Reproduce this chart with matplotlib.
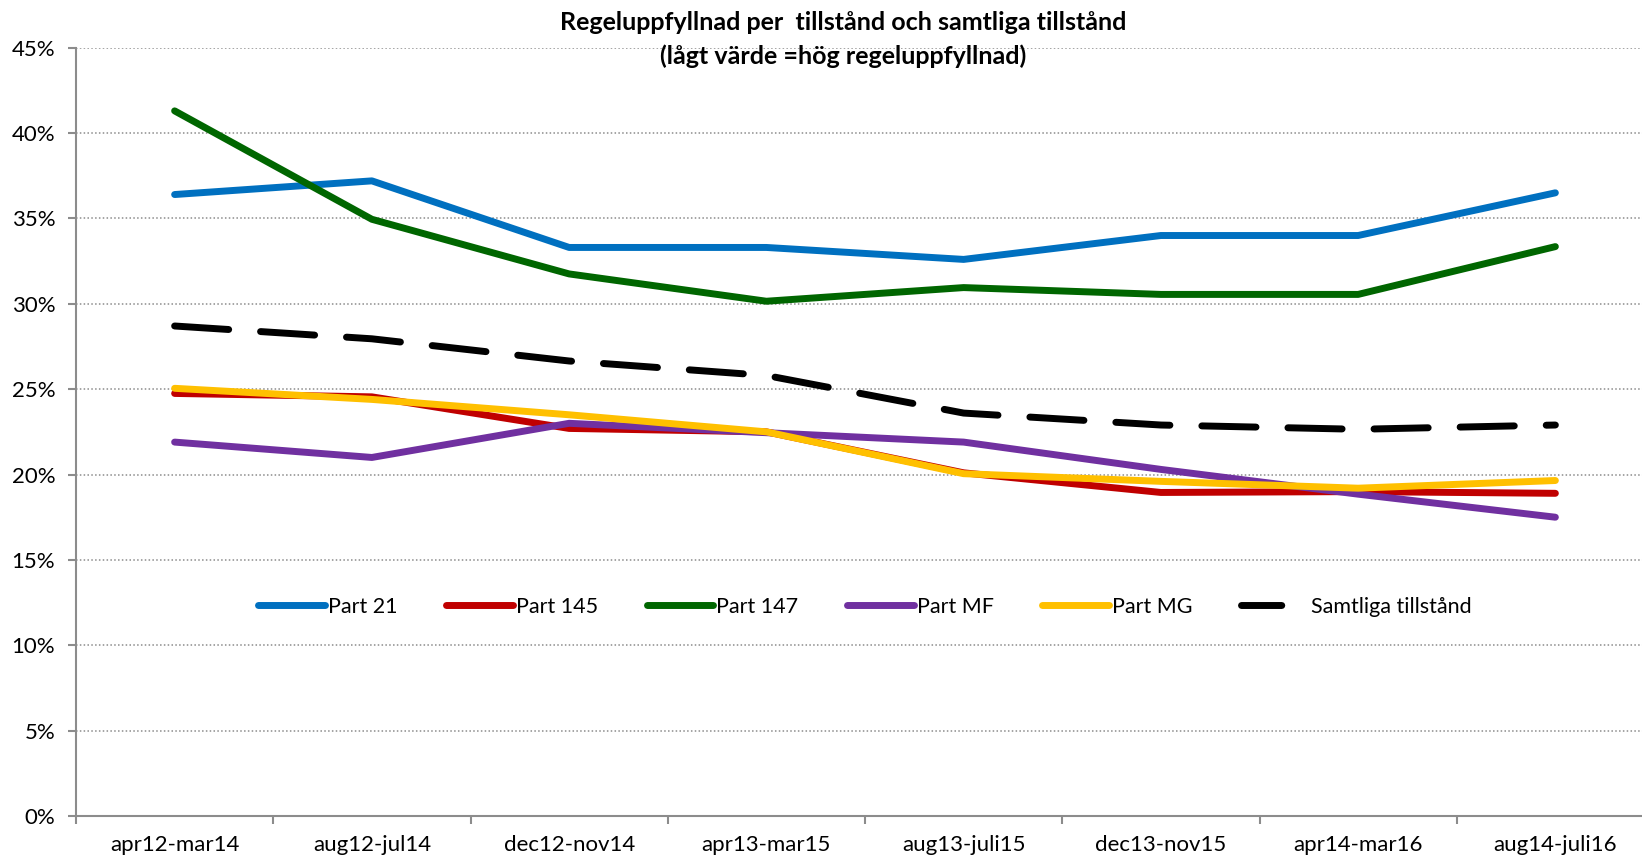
import numpy as np
import matplotlib
matplotlib.use("Agg")
import matplotlib.pyplot as plt
from matplotlib.lines import Line2D
from matplotlib.ticker import FuncFormatter, MultipleLocator

plt.rcParams['font.family'] = ['Lato', 'DejaVu Sans']

periods = ["apr12-mar14", "aug12-jul14", "dec12-nov14", "apr13-mar15",
           "aug13-juli15", "dec13-nov15", "apr14-mar16", "aug14-juli16"]

part_21 = [36.4, 37.2, 33.3, 33.3, 32.6, 34.0, 34.0, 36.5]
part_145 = [24.75, 24.55, 22.7, 22.5, 20.1, 18.95, 19.0, 18.9]
part_147 = [41.3, 34.95, 31.75, 30.15, 30.95, 30.55, 30.55, 33.35]
part_mf = [21.9, 21.0, 23.0, 22.45, 21.9, 20.3, 18.85, 17.5]
part_mg = [25.05, 24.4, 23.5, 22.5, 20.05, 19.6, 19.2, 19.65]
samtliga = [28.7, 27.95, 26.65, 25.8, 23.6, 22.9, 22.65, 22.9]

series = [
    ("Part 21", part_21, "#0070C0"),
    ("Part 145", part_145, "#C00000"),
    ("Part 147", part_147, "#006600"),
    ("Part MF", part_mf, "#7030A0"),
    ("Part MG", part_mg, "#FFC000"),
]

fig = plt.figure(figsize=(16.42, 8.59), dpi=100)
ax = fig.add_axes([76 / 1642, 1 - 816 / 859, 1578 / 1642, (816 - 47.7) / 859])

x = np.arange(len(periods)) + 0.5
handles = []
for name, vals, col in series:
    ln, = ax.plot(x, vals, color=col, lw=5, solid_capstyle='round',
                  solid_joinstyle='round', label=name, zorder=3)
    handles.append(ln)
ax.plot(x, samtliga, color='black', lw=5, dashes=(7.8, 4.6),
        dash_capstyle='round', solid_capstyle='round', zorder=3)
# legend proxy: the reference shows a single short dash for this entry
handles.append(Line2D([], [], color='black', lw=5, dashes=(5.8, 10),
                      dash_capstyle='round', label="Samtliga tillstånd"))

ax.set_xlim(0, len(periods))
ax.set_ylim(0, 45)
ax.yaxis.set_major_locator(MultipleLocator(5))
ax.yaxis.set_major_formatter(FuncFormatter(lambda v, p: "{:.0f}%".format(v)))
ax.grid(axis='y', color='#8c8c8c', linestyle=(0, (1, 1.5)), lw=1.1, zorder=1)

ax.set_xticks(np.arange(len(periods) + 1))
ax.set_xticklabels([])
ax.set_xticks(x, minor=True)
ax.set_xticklabels(periods, minor=True)
ax.tick_params(axis='x', which='major', length=6, color='#8c8c8c', width=1.5)
ax.tick_params(axis='x', which='minor', length=0, pad=14, labelsize=16)
ax.tick_params(axis='y', length=6, color='#8c8c8c', width=1.5, pad=9, labelsize=16)

for s in ['top', 'right']:
    ax.spines[s].set_visible(False)
for s in ['left', 'bottom']:
    ax.spines[s].set_color('#8c8c8c')
    ax.spines[s].set_linewidth(1.5)

ax.legend(handles=handles, loc='center', bbox_to_anchor=(0.5, 0.272), ncol=6,
          frameon=False, fontsize=15.5, handlelength=3.1, handletextpad=0.15,
          columnspacing=2.25)

fig.text(843 / 1642, 1 - 22 / 859, "Regeluppfyllnad per  tillstånd och samtliga tillstånd",
         ha='center', va='center', fontsize=18, fontweight='bold')
fig.text(843 / 1642, 1 - 56 / 859, "(lågt värde =hög regeluppfyllnad)",
         ha='center', va='center', fontsize=18, fontweight='bold')

fig.savefig("out.png", dpi=100)
